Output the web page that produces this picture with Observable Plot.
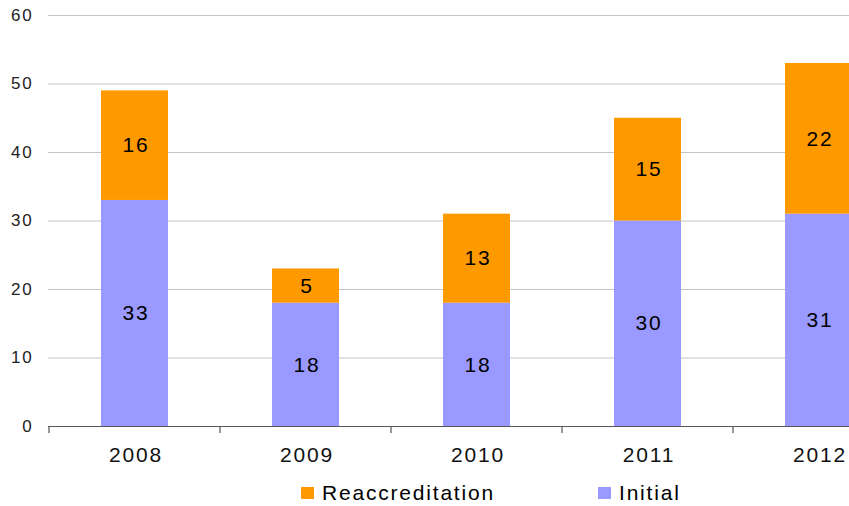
<!DOCTYPE html>
<html>
<head>
<meta charset="utf-8">
<script src="https://cdn.jsdelivr.net/npm/d3@7"></script>
<script src="https://cdn.jsdelivr.net/npm/@observablehq/plot@0.6"></script>
<style>
  html, body { margin: 0; padding: 0; background: #fff; overflow: hidden; }
  body { width: 849px; height: 506px; position: relative; font-family: "Liberation Sans", Arial, sans-serif; }
  #chart svg { overflow: hidden; display: block; }
  .legend { position: absolute; top: 479px; left: 0; width: 849px; height: 27px; font-size: 21px; letter-spacing: 1.8px; color: #000; }
  .legend .item { position: absolute; top: 0; display: flex; align-items: center; height: 27px; }
  .legend .sw { width: 13px; height: 12px; margin-right: 8px; }
</style>
</head>
<body>
<div id="chart"></div>
<div class="legend" id="legend"></div>
<script>
const years = ["2008", "2009", "2010", "2011", "2012"];
const initial = [33, 18, 18, 30, 31];
const reaccreditation = [16, 5, 13, 15, 22];
const seriesNames = ["Initial", "Reaccreditation"];
const seriesColors = ["#9999FF", "#FF9900"];
const yTicks = [0, 10, 20, 30, 40, 50, 60];

const data = [
  ...years.map((year, i) => ({year, series: "Initial", value: initial[i]})),
  ...years.map((year, i) => ({year, series: "Reaccreditation", value: reaccreditation[i]}))
];

const chart = Plot.plot({
  width: 849,
  height: 476,
  marginTop: 15,
  marginBottom: 50,
  marginLeft: 48,
  marginRight: 0,
  style: {fontFamily: "'Liberation Sans', Arial, sans-serif", background: "#fff", overflow: "hidden"},
  x: {type: "band", domain: years, range: [48, 905.5], paddingInner: 0.61, paddingOuter: 0.305, label: null},
  y: {domain: [0, 60], label: null},
  color: {domain: seriesNames, range: seriesColors},
  marks: [
    Plot.gridY(yTicks, {stroke: "#c4c4c4", strokeOpacity: 1, strokeWidth: 1}),
    Plot.barY(data, Plot.stackY({x: "year", y: "value", fill: "series", z: "series"})),
    Plot.text(data, Plot.stackY({x: "year", y: "value", z: "series", text: d => String(d.value), fill: "#000", fontSize: 21, dx: 1})),
    Plot.ruleY([0], {stroke: "#555", strokeWidth: 1.2}),
    Plot.axisY(yTicks, {tickSize: 0, tickPadding: 15, fontSize: 17, fill: "#222", label: null}),
    Plot.axisX({tickSize: 0, tickPadding: 21, fontSize: 21, fill: "#111", label: null, dx: 1})
  ]
});

document.getElementById("chart").appendChild(chart);

// letter spacing to mimic original text rendering
d3.select(chart).selectAll("text").attr("letter-spacing", "1.8px");

// category separator tick marks drawn from the x scale
const xs = chart.scale("x");
const ys = chart.scale("y");
const gap = xs.step - xs.bandwidth;
const bounds = years.map(y => xs.apply(y) - gap / 2);
bounds.push(xs.apply(years[years.length - 1]) + xs.bandwidth + gap / 2);
const y0 = ys.apply(0);
d3.select(chart).append("g")
  .selectAll("line").data(bounds).join("line")
  .attr("x1", d => d).attr("x2", d => d)
  .attr("y1", y0).attr("y2", y0 + 7)
  .attr("stroke", "#555").attr("stroke-width", 1.2);

// legend below the plot
const legend = document.getElementById("legend");
const legendOrder = ["Reaccreditation", "Initial"];
const legendLeft = {Reaccreditation: 301, Initial: 598};
legendOrder.forEach(name => {
  const item = document.createElement("div");
  item.className = "item";
  item.style.left = legendLeft[name] + "px";
  const sw = document.createElement("span");
  sw.className = "sw";
  sw.style.background = seriesColors[seriesNames.indexOf(name)];
  const label = document.createElement("span");
  label.textContent = name;
  item.appendChild(sw);
  item.appendChild(label);
  legend.appendChild(item);
});
</script>
</body>
</html>
